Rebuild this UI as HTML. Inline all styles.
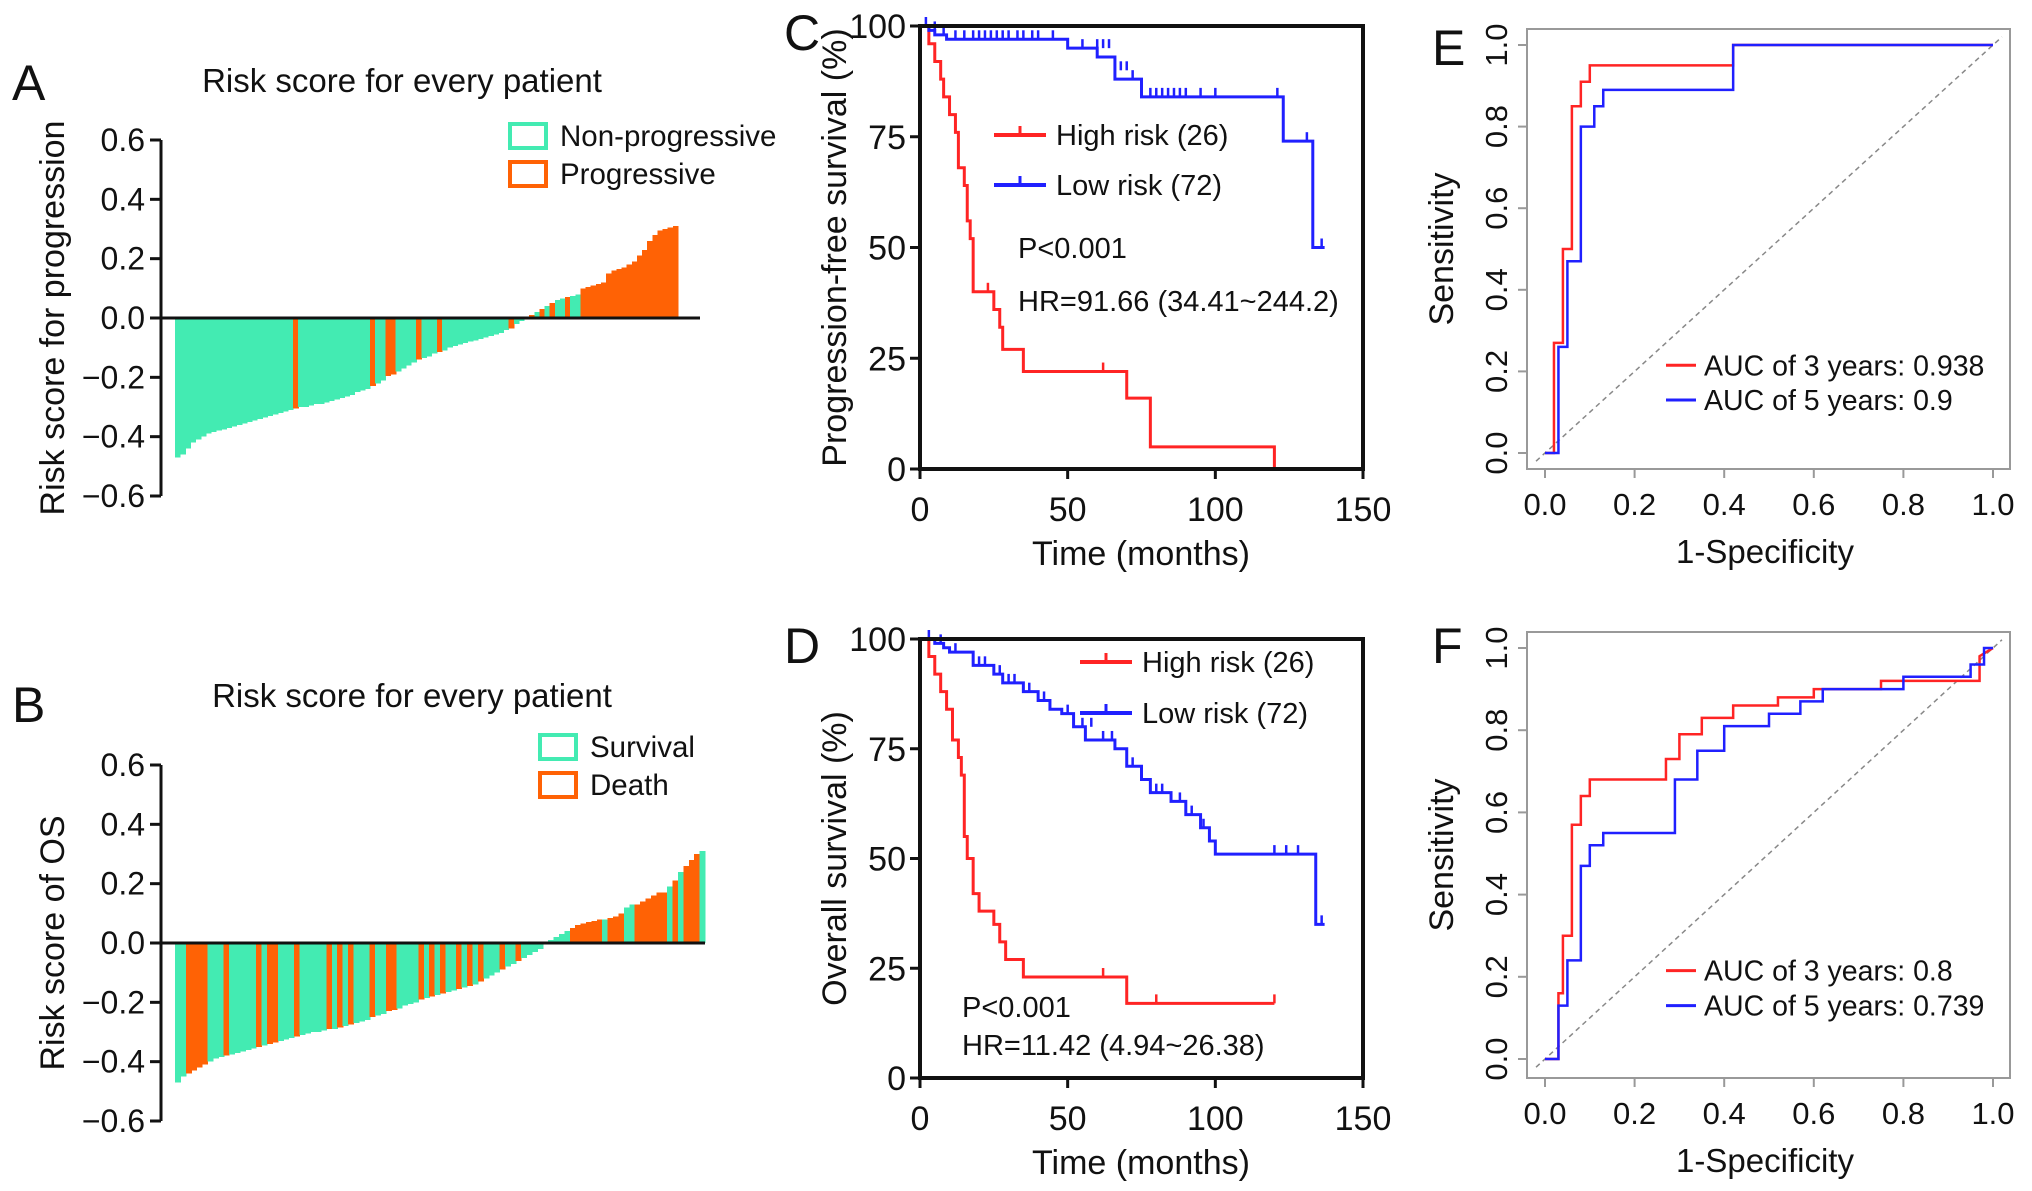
<!DOCTYPE html>
<html><head><meta charset="utf-8"><style>
body{margin:0;background:#fff}
svg{display:block;font-family:"Liberation Sans",sans-serif}
</style></head><body>
<svg id="fig" width="2032" height="1191" viewBox="0 0 2032 1191" xmlns="http://www.w3.org/2000/svg"></svg>
<script>
const riskA=[-0.47,-0.46,-0.44,-0.42,-0.41,-0.40,-0.39,-0.385,-0.38,-0.375,-0.37,-0.365,-0.36,-0.355,-0.35,-0.345,-0.34,-0.335,-0.33,-0.325,-0.32,-0.315,-0.31,-0.305,-0.30,-0.30,-0.295,-0.29,-0.29,-0.285,-0.28,-0.275,-0.27,-0.265,-0.26,-0.25,-0.245,-0.24,-0.23,-0.22,-0.21,-0.195,-0.19,-0.18,-0.17,-0.16,-0.15,-0.14,-0.135,-0.13,-0.12,-0.115,-0.11,-0.10,-0.095,-0.09,-0.085,-0.08,-0.075,-0.07,-0.065,-0.06,-0.055,-0.05,-0.04,-0.035,-0.02,-0.01,0.005,0.01,0.02,0.03,0.04,0.05,0.06,0.065,0.07,0.075,0.08,0.10,0.105,0.11,0.115,0.12,0.15,0.16,0.165,0.17,0.18,0.19,0.21,0.23,0.26,0.28,0.295,0.30,0.305,0.31];
const progA=[23,38,41,42,47,51,65,69,71,73,76,79,80,81,82,83,84,85,86,87,88,89,90,91,92,93,94,95,96,97];
const riskB=[-0.47,-0.45,-0.44,-0.43,-0.42,-0.41,-0.40,-0.39,-0.385,-0.38,-0.375,-0.37,-0.365,-0.36,-0.355,-0.35,-0.345,-0.34,-0.335,-0.33,-0.325,-0.32,-0.315,-0.31,-0.305,-0.30,-0.30,-0.295,-0.29,-0.29,-0.285,-0.28,-0.275,-0.27,-0.265,-0.26,-0.25,-0.245,-0.24,-0.23,-0.225,-0.22,-0.21,-0.205,-0.20,-0.19,-0.185,-0.18,-0.175,-0.17,-0.165,-0.16,-0.155,-0.15,-0.145,-0.14,-0.13,-0.12,-0.11,-0.10,-0.09,-0.08,-0.07,-0.06,-0.05,-0.04,-0.03,-0.02,-0.005,0.01,0.02,0.03,0.04,0.05,0.06,0.065,0.07,0.075,0.08,0.08,0.085,0.09,0.10,0.12,0.13,0.13,0.14,0.15,0.16,0.17,0.17,0.19,0.21,0.24,0.26,0.28,0.30,0.31];
const deathB=[2,3,4,5,9,15,17,18,22,28,30,32,36,39,40,45,47,49,52,54,56,60,63,73,74,75,76,77,78,80,81,82,85,86,87,88,89,90,92,94,95,96];
const cHighT=[0,3,5,7,8,10,12,13,15,16,17,18,25,27,28,35,70,78,120];
const cHighS=[100,96,92,88,84,80,76,68,64,56,52,40,36,32,27,22,16,5,0];
const cHighCens=[[23,40],[62,22]];
const cLowT=[0,3,5,9,50,60,66,75,123,133,137];
const cLowS=[100,99,98,97,95,93,88,84,74,50,50];
const cLowCens=[[2,100],[5,99],[8,98],[12,97],[15,97],[18,97],[20,97],[22,97],[24,97],[26,97],[28,97],[30,97],[33,97],[35,97],[38,97],[40,97],[45,97],[55,95],[60,95],[62,95],[64,95],[68,90],[70,90],[72,88],[78,84],[80,84],[82,84],[84,84],[86,84],[88,84],[90,84],[95,84],[100,84],[121,84],[131,74],[136,50]];
const dHighT=[0,3,5,7,9,11,13,14,15,16,18,20,25,27,29,35,70,120];
const dHighS=[100,96,92,88,84,77,73,69,55,50,42,38,35,31,27,23,17,17];
const dHighCens=[[62,23],[80,17],[120,17]];
const dLowT=[0,5,8,10,18,25,28,35,40,44,48,52,56,66,70,75,78,85,90,95,98,100,134,137];
const dLowS=[100,99,98,97,94,92,90,88,86,84,83,80,77,75,71,68,65,63,60,57,54,51,35,35];
const dLowCens=[[3,100],[7,99],[12,97],[20,94],[22,94],[27,92],[30,90],[32,90],[37,88],[42,86],[50,83],[55,80],[58,80],[62,77],[65,77],[72,71],[80,65],[82,65],[88,63],[92,60],[96,57],[120,51],[124,51],[128,51],[136,35]];
const eRed=[[0,0],[0.02,0],[0.02,0.27],[0.04,0.27],[0.04,0.5],[0.06,0.5],[0.06,0.85],[0.08,0.85],[0.08,0.91],[0.1,0.91],[0.1,0.95],[0.42,0.95],[0.42,1],[1,1]];
const eBlue=[[0,0],[0.03,0],[0.03,0.26],[0.05,0.26],[0.05,0.47],[0.08,0.47],[0.08,0.8],[0.11,0.8],[0.11,0.85],[0.13,0.85],[0.13,0.89],[0.42,0.89],[0.42,1],[1,1]];
const fRed=[[0,0],[0.03,0],[0.03,0.16],[0.04,0.16],[0.04,0.3],[0.06,0.3],[0.06,0.57],[0.08,0.57],[0.08,0.64],[0.1,0.64],[0.1,0.68],[0.27,0.68],[0.27,0.73],[0.3,0.73],[0.3,0.79],[0.35,0.79],[0.35,0.83],[0.42,0.83],[0.42,0.86],[0.52,0.86],[0.52,0.88],[0.6,0.88],[0.6,0.9],[0.75,0.9],[0.75,0.92],[0.97,0.92],[0.97,0.98],[1,1]];
const fBlue=[[0,0],[0.03,0],[0.03,0.13],[0.05,0.13],[0.05,0.24],[0.08,0.24],[0.08,0.47],[0.1,0.47],[0.1,0.52],[0.13,0.52],[0.13,0.55],[0.29,0.55],[0.29,0.68],[0.34,0.68],[0.34,0.75],[0.4,0.75],[0.4,0.81],[0.5,0.81],[0.5,0.84],[0.57,0.84],[0.57,0.87],[0.62,0.87],[0.62,0.9],[0.8,0.9],[0.8,0.93],[0.95,0.93],[0.95,0.96],[0.98,0.96],[0.98,1],[1,1]];
const riskTicks=[0.6,0.4,0.2,0.0,-0.2,-0.4,-0.6];
const kmYTicks=[100,75,50,25,0];
const kmXTicks=[0,50,100,150];
const rocTicks=[0,0.2,0.4,0.6,0.8,1.0];

const svg=document.getElementById('fig');
const NS='http://www.w3.org/2000/svg';
function mk(tag,attrs,parent){const e=document.createElementNS(NS,tag);for(const k in attrs)e.setAttribute(k,attrs[k]);(parent||svg).appendChild(e);return e;}
function txt(s,x,y,size,anchor,parent,rot){const t=mk('text',{x:x,y:y,'font-size':size,'text-anchor':anchor||'start',fill:'#111'},parent);if(rot)t.setAttribute('transform','rotate('+rot+' '+x+' '+y+')');t.textContent=s;return t;}
const GREEN='#43ebb2',ORANGE='#ff6205',RED='#ff2424',BLUE='#2020ff';
function fmt(v){return (v<0?'\u2212':'')+Math.abs(v).toFixed(1);}

function waterfall(name,vals,marks,X0,X1,Y6,Ym6,lineEnd,title,tx,ty,ylab,leg,lx,ly,letter,letY){
  const g=mk('g',{});
  
  
  const ys=v=>Y6+(0.6-v)/1.2*(Ym6-Y6);
  const w=(X1-X0)/vals.length;
  vals.forEach((v,i)=>{const y0=ys(0),y1=ys(v);const m=marks.includes(i);
    const r=mk('rect',{x:X0+i*w,y:Math.min(y0,y1),width:w+0.6,height:Math.abs(y1-y0),fill:m?ORANGE:GREEN,'shape-rendering':'crispEdges'},g);
    
    });
  mk('line',{x1:161,x2:161,y1:Y6,y2:Ym6,stroke:'#111','stroke-width':3},g);
  riskTicks.forEach(t=>{const y=ys(t);mk('line',{x1:150,x2:161,y1:y,y2:y,stroke:'#111','stroke-width':3},g);txt(fmt(t),145,y+11,32,'end',g);});
  mk('line',{x1:161,x2:lineEnd,y1:ys(0),y2:ys(0),stroke:'#111','stroke-width':3},g);
  const tt=txt(title,tx,ty,33,'middle',g);
  const yl=txt(ylab,64,(Y6+Ym6)/2,34,'middle',g,-90);
  leg.forEach((l,i)=>{const lg=mk('g',{},g);
    mk('rect',{x:lx,y:ly+i*38,width:36,height:24,fill:'none',stroke:i?ORANGE:GREEN,'stroke-width':4},lg);txt(l,lx+50,ly+i*38+22,29.5,'start',lg);});
  txt(letter,12,letY,50,'start',g);
}
waterfall('panel-a-waterfall',riskA,progA,175,678,140,496,700,'Risk score for every patient',402,92,'Risk score for progression',['Non-progressive','Progressive'],510,124,'A',100);
waterfall('panel-b-waterfall',riskB,deathB,175,705,765,1121,705,'Risk score for every patient',412,707,'Risk score of OS',['Survival','Death'],540,735,'B',722);

function km(name,top,bot,hi,lo,legY,legX,pY,pX,hr,ylab,letter,letY){
  const g=mk('g',{});
  
  
  const L=920,R=1363;const xs=t=>L+t/150*(R-L);const ys=s=>bot-s/100*(bot-top);
  function step(T,S,col,cens,nm){let d='M'+xs(T[0])+' '+ys(S[0]);for(let i=1;i<T.length;i++){d+=' H'+xs(T[i])+' V'+ys(S[i]);}
    const p=mk('path',{d:d,fill:'none',stroke:col,'stroke-width':3},g);
    cens.forEach(c=>mk('line',{x1:xs(c[0]),x2:xs(c[0]),y1:ys(c[1])-9,y2:ys(c[1]),stroke:col,'stroke-width':2.5},g));}
  step(hi[0],hi[1],RED,hi[2],'high-risk-curve');step(lo[0],lo[1],BLUE,lo[2],'low-risk-curve');
  mk('rect',{x:L,y:top,width:R-L,height:bot-top,fill:'none',stroke:'#111','stroke-width':4},g);
  kmYTicks.forEach(t=>{const y=ys(t);mk('line',{x1:L-10,x2:L,y1:y,y2:y,stroke:'#111','stroke-width':3},g);txt(String(t),L-14,y+12,34,'end',g);});
  kmXTicks.forEach(t=>{const x=xs(t);mk('line',{x1:x,x2:x,y1:bot,y2:bot+10,stroke:'#111','stroke-width':3},g);txt(String(t),x,bot+52,34,'middle',g);});
  const xl=txt('Time (months)',1141,bot+96,34,'middle',g);
  const yl=txt(ylab,846,(top+bot)/2,34,'middle',g,-90);
  [['High risk (26)',RED],['Low risk (72)',BLUE]].forEach((l,i)=>{const y=legY[i];const lg=mk('g',{},g);
    mk('line',{x1:legX,x2:legX+52,y1:y,y2:y,stroke:l[1],'stroke-width':4},lg);mk('line',{x1:legX+26,x2:legX+26,y1:y-9,y2:y,stroke:l[1],'stroke-width':3},lg);txt(l[0],legX+62,y+10,29,'start',lg);});
  txt('P<0.001',pX,pY[0],29,'start',g);txt(hr,pX,pY[1],29,'start',g);
  txt(letter,784,letY,50,'start',g);
}
km('panel-c-pfs',26,469,[cHighT,cHighS,cHighCens],[cLowT,cLowS,cLowCens],[135,185],994,[258,311],1018,'HR=91.66 (34.41~244.2)','Progression-free survival (%)','C',50);
km('panel-d-os',639,1078,[dHighT,dHighS,dHighCens],[dLowT,dLowS,dLowCens],[662,713],1080,[1017,1055],962,'HR=11.42 (4.94~26.38)','Overall survival (%)','D',663);

function roc(name,top,bot,y1,y0,red,blue,l1,l2,letter,letY){
  const g=mk('g',{});
  
  
  const L=1527,R=2010;const xs=v=>1545+v*(1993-1545);const ys=v=>y0-v*(y0-y1);
  mk('rect',{x:L,y:top,width:R-L,height:bot-top,fill:'none',stroke:'#999','stroke-width':2},g);
  mk('line',{x1:xs(-0.02),y1:ys(-0.02),x2:xs(1.02),y2:ys(1.02),stroke:'#888','stroke-width':1.5,'stroke-dasharray':'5 4'},g);
  rocTicks.forEach(t=>{const x=xs(t),y=ys(t);
    mk('line',{x1:x,x2:x,y1:bot,y2:bot+9,stroke:'#999','stroke-width':2},g);txt(t.toFixed(1),x,bot+46,31,'middle',g);
    mk('line',{x1:L-9,x2:L,y1:y,y2:y,stroke:'#999','stroke-width':2},g);txt(t.toFixed(1),L-20,y,31,'middle',g,-90);});
  [[red,RED,'roc-3-years'],[blue,BLUE,'roc-5-years']].forEach(s=>{const p=mk('polyline',{points:s[0].map(q=>xs(q[0])+','+ys(q[1])).join(' '),fill:'none',stroke:s[1],'stroke-width':2.5},g);});
  [[l1,RED],[l2,BLUE]].forEach((l,i)=>{const y=ys(0.215-i*0.085);const lg=mk('g',{},g);
    mk('line',{x1:1666,x2:1696,y1:y,y2:y,stroke:l[1],'stroke-width':3},lg);txt(l[0],1704,y+10,28.5,'start',lg);});
  const xl=txt('1-Specificity',1765,bot+94,33,'middle',g);
  const yl=txt('Sensitivity',1453,(top+bot)/2,34,'middle',g,-90);
  txt(letter,1432,letY,50,'start',g);
}
roc('panel-e-roc',29,469,45,453,eRed,eBlue,'AUC of 3 years: 0.938','AUC of 5 years: 0.9','E',65);
roc('panel-f-roc',632,1078,648,1059,fRed,fBlue,'AUC of 3 years: 0.8','AUC of 5 years: 0.739','F',663);
</script>
</body></html>
